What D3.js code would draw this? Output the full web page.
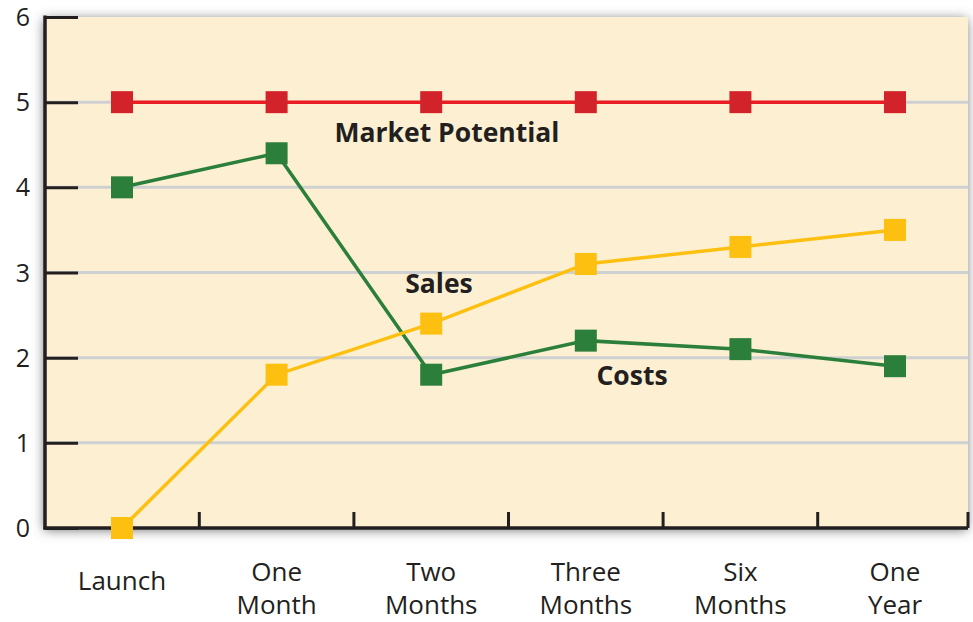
<!DOCTYPE html>
<html>
<head>
<meta charset="utf-8">
<script src="https://cdn.jsdelivr.net/npm/d3@7"></script>
<style>
  html, body { margin: 0; padding: 0; background: #ffffff; }
  svg { display: block; }
</style>
</head>
<body>
<svg id="chart" width="973" height="622"></svg>
<script>
// Category labels (multi-line labels split on "\n")
const categories = ["Launch", "One\nMonth", "Two\nMonths", "Three\nMonths", "Six\nMonths", "One\nYear"];
const marketPotential = [5, 5, 5, 5, 5, 5];
const costs = [4, 4.4, 1.8, 2.2, 2.1, 1.9];
const sales = [0, 1.8, 2.4, 3.1, 3.3, 3.5];
const yTicks = [0, 1, 2, 3, 4, 5, 6];

const svg = d3.select("#chart");
const plot = { left: 45, right: 968, top: 17, bottom: 528 };
const textColor = "#231f20";
const fontFamily = "'Open Sans', 'Noto Sans', sans-serif";

const x = d3.scaleBand().domain(categories).range([44.7, 972.3]).padding(0);
const y = d3.scaleLinear().domain([0, 6]).range([plot.bottom, plot.top]);
const cx = d => x(d) + x.bandwidth() / 2;

// Soft shadow around the plot panel
const defs = svg.append("defs");
const f = defs.append("filter").attr("id", "panelShadow")
  .attr("x", "-5%").attr("y", "-10%").attr("width", "110%").attr("height", "120%");
f.append("feDropShadow").attr("dx", -1).attr("dy", 2).attr("stdDeviation", 6)
  .attr("flood-color", "#58595b").attr("flood-opacity", 0.85);

svg.append("rect")
  .attr("x", plot.left).attr("y", plot.top)
  .attr("width", plot.right - plot.left).attr("height", plot.bottom - plot.top)
  .attr("fill", "#fdf0d2").attr("filter", "url(#panelShadow)");

// Horizontal gridlines
svg.append("g").selectAll("line").data(yTicks.filter(t => t > 0 && t < 6)).join("line")
  .attr("x1", plot.left).attr("x2", plot.right)
  .attr("y1", d => y(d)).attr("y2", d => y(d))
  .attr("stroke", "#cfd0d2").attr("stroke-width", 3);

// Y axis: inward ticks with labels on the left
const yAxis = d3.axisRight(y).tickValues(yTicks).tickSize(33).tickFormat("");
const yg = svg.append("g").attr("transform", `translate(${plot.left},0)`).call(yAxis);
yg.select(".domain").remove();
yg.selectAll(".tick line").attr("stroke", textColor).attr("stroke-width", 3);
svg.append("line").attr("x1", plot.left).attr("x2", plot.left)
  .attr("y1", plot.top - 1.5).attr("y2", plot.bottom + 1.5)
  .attr("stroke", textColor).attr("stroke-width", 3.5);
svg.append("g").selectAll("text").data(yTicks).join("text")
  .attr("x", 23).attr("y", d => y(d) + 9)
  .attr("text-anchor", "middle")
  .attr("font-family", fontFamily).attr("font-size", 25).attr("fill", textColor)
  .text(d => d);

// X axis: short upward ticks at category boundaries
const boundaries = categories.slice(1).map(c => x(c)).concat([plot.right]);
svg.append("g").selectAll("line").data(boundaries).join("line")
  .attr("x1", d => d).attr("x2", d => d)
  .attr("y1", plot.bottom).attr("y2", plot.bottom - 16)
  .attr("stroke", textColor).attr("stroke-width", 3);
svg.append("line").attr("x1", plot.left - 1.5).attr("x2", plot.right)
  .attr("y1", plot.bottom).attr("y2", plot.bottom)
  .attr("stroke", textColor).attr("stroke-width", 3.5);

// Category labels
const catLabels = svg.append("g").selectAll("text").data(categories).join("text")
  .attr("text-anchor", "middle")
  .attr("font-family", fontFamily).attr("font-size", 26).attr("fill", textColor)
  .attr("transform", d => `translate(${cx(d)},0)`);
catLabels.each(function(d) {
  const lines = d.split("\n");
  const sel = d3.select(this);
  const baseY = lines.length === 1 ? 590 : 581;
  lines.forEach((ln, i) => {
    sel.append("tspan").attr("x", 0).attr("y", baseY + i * 33).text(ln);
  });
});

// Series lines and square markers
const series = [
  { name: "Market Potential", values: marketPotential, line: "#ec1c24", marker: "#d2232a" },
  { name: "Costs", values: costs, line: "#2b7f3b", marker: "#2b7f3b" },
  { name: "Sales", values: sales, line: "#fdc010", marker: "#fdc010" }
];
const lineGen = d3.line().x((d, i) => cx(categories[i])).y(d => y(d));
const ms = 22;
series.forEach(s => {
  const g = svg.append("g");
  g.append("path").datum(s.values)
    .attr("d", lineGen).attr("fill", "none")
    .attr("stroke", s.line).attr("stroke-width", 3.5);
  g.selectAll("rect").data(s.values).join("rect")
    .attr("x", (d, i) => cx(categories[i]) - ms / 2)
    .attr("y", d => y(d) - ms / 2)
    .attr("width", ms).attr("height", ms)
    .attr("fill", s.marker);
});

// Series labels
const labels = [
  { text: "Market Potential", x: 447, y: 142 },
  { text: "Sales", x: 439, y: 293 },
  { text: "Costs", x: 632, y: 385 }
];
svg.append("g").selectAll("text").data(labels).join("text")
  .attr("x", d => d.x).attr("y", d => d.y)
  .attr("text-anchor", "middle")
  .attr("font-family", fontFamily).attr("font-weight", 700)
  .attr("font-size", 26.5).attr("fill", textColor)
  .text(d => d.text);
</script>
</body>
</html>
